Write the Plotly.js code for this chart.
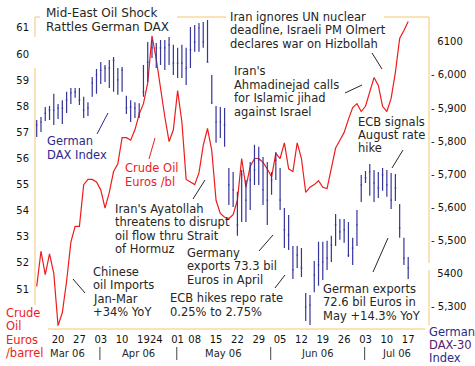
<!DOCTYPE html>
<html><head><meta charset="utf-8">
<script src="https://cdn.plot.ly/plotly-3.0.1.min.js"></script>
<style>html,body{margin:0;padding:0;background:#fff}#chart{width:475px;height:366px}</style>
</head><body><div id="chart"></div>
<script>
// ---------------- data ----------------
const tradingDays = [
 '2006-03-13','2006-03-14','2006-03-15','2006-03-16','2006-03-17','2006-03-20','2006-03-21','2006-03-22','2006-03-23','2006-03-24',
 '2006-03-27','2006-03-28','2006-03-29','2006-03-30','2006-03-31','2006-04-03','2006-04-04','2006-04-05','2006-04-06','2006-04-07',
 '2006-04-10','2006-04-11','2006-04-12','2006-04-13','2006-04-18','2006-04-19','2006-04-20','2006-04-21','2006-04-24','2006-04-25',
 '2006-04-26','2006-04-27','2006-04-28','2006-05-02','2006-05-03','2006-05-04','2006-05-05','2006-05-08','2006-05-09','2006-05-10',
 '2006-05-11','2006-05-12','2006-05-15','2006-05-16','2006-05-17','2006-05-18','2006-05-19','2006-05-22','2006-05-23','2006-05-24',
 '2006-05-25','2006-05-26','2006-05-29','2006-05-30','2006-05-31','2006-06-01','2006-06-02','2006-06-05','2006-06-06','2006-06-07',
 '2006-06-08','2006-06-09','2006-06-12','2006-06-13','2006-06-14','2006-06-15','2006-06-16','2006-06-19','2006-06-20','2006-06-21',
 '2006-06-22','2006-06-23','2006-06-26','2006-06-27','2006-06-28','2006-06-29','2006-06-30','2006-07-03','2006-07-04','2006-07-05',
 '2006-07-06','2006-07-07','2006-07-10','2006-07-11','2006-07-12','2006-07-13','2006-07-14','2006-07-17'];

const oilEurosPerBarrel = [
 51.1, 52.45, 51.55, 52.35, 51.6, 49.6, 50.1, 51.3, 52.8, 53.4,
 53.4, 55.0, 55.2, 55.2, 55.1, 54.8, 54.1, 54.7, 55.5, 55.8,
 56.8, 56.8, 56.7, 57.1, 57.7, 58.1, 58.9, 60.7, 59.8, 58.6,
 57.6, 56.65, 57.1, 58.6, 57.4, 55.2, 55.1, 55.0, 55.45, 56.5,
 57.15, 56.3, 54.4, 53.9, 53.75, 53.7, 53.85, 54.4, 56.0, 54.9,
 55.7, 56.0, 56.0, 55.85, 55.6, 55.3, 56.2, 56.0, 56.6, 55.6,
 55.5, 56.6, 56.0, 54.7, 54.9, 55.0, 55.15, 54.9, 54.85, 55.6,
 56.4, 56.7, 57.0, 57.5, 57.95, 58.1, 57.8, 58.0, 58.6, 59.1,
 58.8, 58.0, 57.8, 58.3, 59.3, 60.6, 60.9, 61.25];

const daxHigh = [
 5864,5873,5903,5906,5943,5912,5924,5949,5961,5961,
 5961,5934,5918,5994,6018,6039,6030,6045,6054,6021,
 6024,5937,5924,5918,5915,6030,6100,6106,6097,6106,
 6106,6115,6091,6082,6091,6082,6145,6151,6157,6160,
 6166,6000,5906,5903,5900,5719,5707,5647,5713,5683,
 5737,5789,5783,5752,5737,5707,5767,5719,5598,5577,
 5483,5483,5477,5341,5335,5438,5496,5496,5499,5514,
 5580,5565,5565,5556,5508,5592,5698,5710,5731,5713,
 5707,5719,5713,5704,5701,5610,5508,5450];
const daxLow = [
 5813,5828,5861,5864,5849,5867,5852,5885,5912,5931,
 5909,5870,5876,5934,5943,5973,5979,5961,5949,5940,
 5949,5882,5858,5870,5870,5934,5979,6051,6021,6030,
 6015,6030,6000,5991,5991,5970,6021,6070,6070,6082,
 6039,5915,5795,5810,5783,5607,5601,5514,5556,5556,
 5592,5668,5668,5607,5547,5638,5683,5592,5477,5471,
 5384,5417,5390,5257,5245,5344,5363,5381,5411,5435,
 5483,5502,5493,5450,5426,5483,5616,5674,5635,5616,
 5628,5650,5632,5595,5619,5508,5426,5384];
const daxClose = [
 5849,5858,5885,5894,5894,5900,5900,5924,5946,5949,
 5924,5894,5900,5976,6000,6015,6021,6021,6045,5985,
 6015,5900,5903,5900,5885,5949,6039,6082,6082,6082,
 6082,6091,6036,6036,6036,6021,6076,6100,6142,6100,
 6039,5915,5858,5858,5849,5668,5653,5547,5698,5622,
 5683,5713,5743,5653,5622,5683,5743,5622,5532,5517,
 5411,5456,5417,5299,5305,5396,5426,5435,5447,5486,
 5547,5526,5532,5456,5477,5547,5668,5689,5707,5674,
 5659,5698,5668,5622,5659,5538,5447,5417];

const dayTickDates = ['2006-03-20','2006-03-27','2006-04-03','2006-04-10','2006-04-19','2006-04-24','2006-05-02','2006-05-08',
 '2006-05-15','2006-05-22','2006-05-29','2006-06-05','2006-06-12','2006-06-19','2006-06-26','2006-07-03','2006-07-10','2006-07-17'];
const dayTickText = ['20','27','03','10','19','24','01','08','15','22','29','05','12','19','26','03','10','17'];
const monthKeys = ['2006-03','2006-04','2006-05','2006-06','2006-07'];
const monthLabels = ['Mar 06','Apr 06','May 06','Jun 06','Jul 06'];
const oilTickVals = [51,52,53,54,55,56,57,58,59,60,61];
const daxTickVals = [6100,6000,5900,5800,5700,5600,5500,5400,5300];
const daxTickText = ['\u00a0\u00a06100','- 6,000','- 5,900','- 5,800','- 5,700','- 5,600','- 5,500','\u00a0\u00a05400','- 5,300'];

// ---------------- style / geometry ----------------
const FONT = 'DejaVu Sans';
const INK = '#262626', NAVY = '#2a2a8c', PURPLE = '#55206e', RED = '#ee1c1c', FRAME = '#f6c46e';
const BAR = '#35359c';
const PL = 35, PR = 429, PT = 17, PB = 329;
const X0 = -0.4, X1 = 91.87;
const px = x => (x - PL) / (PR - PL);
const py = y => (PB - y) / (PB - PT);
const LINE = 13.5;

const notes = [
 {t:['Mid-East Oil Shock','Rattles German DAX'], x:45, y:13, c:INK, s:12, lh:14},
 {t:['Iran ignores UN nuclear','deadline, Israeli PM Olmert','declares war on Hizbollah'], x:229, y:16.5, c:INK},
 {t:["Iran's",'Ahmadinejad calls','for Islamic jihad','against Israel'], x:233, y:71, c:INK},
 {t:['ECB signals','August rate','hike'], x:357, y:121.5, c:INK},
 {t:['German','DAX Index'], x:46, y:141, c:NAVY},
 {t:['Crude Oil','Euros /bl'], x:124, y:168, c:RED},
 {t:["Iran's Ayatollah",'threatens to disrupt','oil flow thru Strait','of Hormuz'], x:114, y:208.5, c:INK},
 {t:['Chinese','oil Imports','Jan-Mar','+34% YoY'], x:92, y:271.5, c:INK},
 {t:['Germany','exports 73.3 bil','Euros in April'], x:186, y:252.5, c:INK},
 {t:['ECB hikes repo rate','0.25% to 2.75%'], x:169, y:298, c:INK},
 {t:['German exports','72.6 bil Euros in','May +14.3% YoY'], x:322, y:288.5, c:INK},
 {t:['Crude','Oil','Euros','/barrel'], x:5, y:312.5, c:RED},
 {t:['German','DAX-30','Index'], x:428, y:331.5, c:[NAVY, PURPLE, NAVY]}
];
const pointers = [
 [73,279,85,293,INK],[97,134,108,113,NAVY],[149,159,155,138,RED],[193,199,205,180,INK],
 [372,53,382,69,INK],[345,93,362,85,INK],[392,168,403,150,INK],[259,251,273,235,INK],
 [275,288,285,275,INK],[373,272,388,238,INK]
];
const frame = [
 [35,17,40,17],[177,17,226,17],[384,17,429,17],[35,17,35,37],[35,68,35,305],
 [429,17,429,263],[429,270,429,325],[48,329,425,329]
];

const annotations = [];
notes.forEach(n => n.t.forEach((line, k) => annotations.push({
  xref:'paper', yref:'paper', x:px(n.x), y:py(n.y + k*(n.lh || LINE)), xanchor:'left', yanchor:'middle',
  text:line, showarrow:false, borderpad:0,
  font:{family:FONT, size:n.s || 11.5, color:Array.isArray(n.c) ? n.c[k] : n.c}
})));

const shapes = [];
frame.forEach(f => shapes.push({type:'line', xref:'paper', yref:'paper', x0:px(f[0]), y0:py(f[1]), x1:px(f[2]), y1:py(f[3]), line:{color:FRAME, width:1}}));
pointers.forEach(p => shapes.push({type:'line', xref:'paper', yref:'paper', x0:px(p[0]), y0:py(p[1]), x1:px(p[2]), y1:py(p[3]), line:{color:p[4], width:1}}));

// month labels and separators derived from the trading-day list
const firstIdx = monthKeys.map(m => tradingDays.findIndex(d => d.startsWith(m)));
const seps = firstIdx.slice(1).map(i => i - 0.2);
const bounds = [X0].concat(seps, [X1]);
monthLabels.forEach((lab, k) => annotations.push({
  xref:'x', yref:'paper', x:(bounds[k] + bounds[k+1]) / 2, y:py(353), xanchor:'center', yanchor:'middle',
  text:lab, showarrow:false, borderpad:0, font:{family:FONT, size:10, color:INK}
}));
seps.forEach(s => shapes.push({type:'line', xref:'x', yref:'paper', x0:s, x1:s, y0:py(347), y1:py(360), line:{color:'#444', width:1}}));

const traces = [
 {type:'scatter', mode:'lines', x:tradingDays, y:oilEurosPerBarrel, yaxis:'y',
  line:{color:RED, width:1.2}, hoverinfo:'skip'},
 {type:'ohlc', x:tradingDays, open:daxClose, high:daxHigh, low:daxLow, close:daxClose, yaxis:'y2',
  increasing:{line:{color:BAR, width:1.2}}, decreasing:{line:{color:BAR, width:1.2}}, tickwidth:0.2, hoverinfo:'skip'}
];

const layout = {
  width:475, height:366, margin:{l:PL, r:475-PR, t:PT, b:366-PB, pad:0},
  paper_bgcolor:'#fff', plot_bgcolor:'#fff', showlegend:false,
  font:{family:FONT, color:INK},
  xaxis:{type:'category', range:[X0, X1], tickmode:'array', tickvals:dayTickDates, ticktext:dayTickText, tickangle:0,
    showgrid:false, zeroline:false, showline:false, ticks:'', tickfont:{family:FONT, size:10, color:'#111'},
    ticklabelstandoff:3, rangeslider:{visible:false}, fixedrange:true, automargin:false},
  yaxis:{range:[49.47, 61.42], tickmode:'array', tickvals:oilTickVals, showgrid:false, zeroline:false,
    showline:false, ticks:'', tickfont:{family:FONT, size:10, color:'#111'}, ticklabelstandoff:5, fixedrange:true},
  yaxis2:{overlaying:'y', side:'right', range:[5232.6, 6175.2], tickmode:'array', tickvals:daxTickVals,
    ticktext:daxTickText, showgrid:false, zeroline:false, showline:false, ticks:'',
    tickfont:{family:FONT, size:10, color:'#111'}, ticklabelstandoff:1, fixedrange:true},
  annotations:annotations, shapes:shapes
};

Plotly.newPlot('chart', traces, layout, {staticPlot:true, displayModeBar:false});
</script>
</body></html>
